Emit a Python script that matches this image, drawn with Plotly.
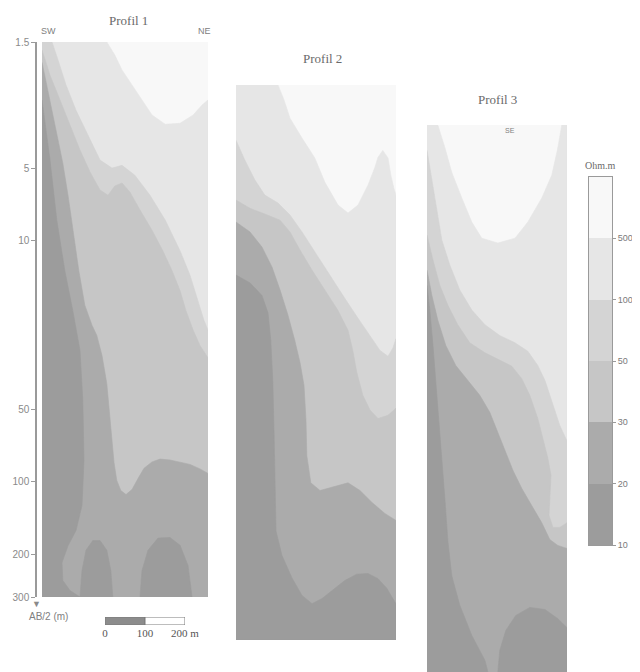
import math
import plotly.graph_objects as go

# ---------------- data ----------------
PROFILE_NAMES = ["Profil 1", "Profil 2", "Profil 3"]
PROFILE_LENGTH_M = [415, 400, 350]
AB2_TOP = 1.5
AB2_BOTTOM = 300
AB2_TICKS = [1.5, 5, 10, 50, 100, 200, 300]
AB2_TICK_LABELS = ["1.5", "5", "10", "50", "100", "200", "300"]

RES_LEVELS = [10, 20, 30, 50, 100, 500]          # Ohm.m class limits
BAND_COLORS = ["#9c9c9c", "#ababab", "#c6c6c6", "#d4d4d4", "#e6e6e6", "#f8f8f8"]

SCALE_TICKS = [0, 100, 200]
SCALE_LABELS = ["0", "100", "200 m"]

# --- Profil 1 : iso-resistivity lines (x = distance m, y = AB/2 m) ---
P1_C500_X = [162, 182, 200, 225, 250, 275, 308, 345, 378, 400, 415]
P1_C500_Y = [1.5, 1.7, 1.96, 2.26, 2.61, 3.01, 3.29, 3.26, 3.01, 2.74, 2.61]
P1_C100_X = [25, 40, 60, 85, 115, 145, 175, 200, 232, 270, 308, 345, 370, 390, 405, 415]
P1_C100_Y = [1.5, 1.78, 2.26, 2.88, 3.65, 4.63, 5.0, 4.87, 5.35, 6.48, 8.21, 11.0, 13.9, 17.7, 21.4, 23.5]
P1_C50_X = [0, 20, 45, 70, 95, 120, 145, 165, 182, 200, 220, 245, 275, 302, 325, 345, 360, 378, 395, 415]
P1_C50_Y = [1.62, 2.06, 2.61, 3.31, 4.21, 5.19, 6.16, 6.48, 5.93, 5.76, 6.29, 7.46, 9.04, 11.0, 13.3, 16.1, 19.5, 23.5, 27.2, 30.6]
P1_C30_X = [0, 15, 27, 40, 52, 65, 77, 92, 107, 125, 137, 150, 162, 170, 175, 180, 187, 197, 210, 225, 240, 255, 275, 295, 320, 345, 370, 395, 415]
P1_C30_Y = [1.82, 2.38, 2.96, 3.83, 4.77, 6.48, 9.04, 13.3, 18.5, 22.4, 24.7, 29.9, 39.1, 53.1, 67.0, 83.0, 98.6, 108.5, 112.8, 107.5, 96.9, 87.8, 82.6, 80.4, 81.1, 83.0, 84.6, 88.3, 92.2]
P1_C20_X = [0, 20, 37, 57, 77, 95, 102, 105, 100, 85, 65, 50, 52, 70, 95]
P1_C20_Y = [2.61, 4.63, 8.21, 13.3, 19.5, 28.5, 46.0, 81.4, 125, 159, 184, 216, 256, 282, 300]
P1_BLOB1_X = [95, 100, 110, 127, 145, 162, 172, 177]
P1_BLOB1_Y = [300, 233, 192, 175, 175, 192, 233, 300]
P1_BLOB2_X = [245, 250, 265, 290, 320, 345, 365, 375]
P1_BLOB2_Y = [300, 233, 192, 171, 170, 183, 222, 300]

# --- Profil 2 ---
P2_C500_X = [105, 120, 135, 165, 197, 222, 255, 280, 305, 330, 347, 355, 367, 380, 387, 395, 400]
P2_C500_Y = [1.5, 1.73, 2.06, 2.49, 3.01, 3.79, 4.72, 5.09, 4.72, 3.9, 3.3, 2.99, 2.8, 3.01, 3.54, 4.04, 4.29]
P2_C100_X = [0, 22, 47, 72, 105, 135, 165, 197, 235, 272, 305, 335, 360, 380, 392, 400]
P2_C100_Y = [2.54, 3.07, 3.71, 4.29, 4.63, 5.19, 6.1, 7.39, 9.21, 11.5, 13.9, 16.4, 18.9, 20.0, 18.5, 16.9]
P2_C50_X = [0, 35, 72, 110, 135, 160, 190, 222, 255, 280, 292, 302, 317, 335, 355, 380, 400]
P2_C50_Y = [4.5, 4.87, 5.14, 5.45, 6.1, 7.25, 8.78, 10.6, 12.9, 15.6, 18.9, 23.3, 29.0, 33.4, 36.2, 35.1, 32.8]
P2_C30_X = [0, 35, 65, 90, 110, 130, 147, 160, 170, 175, 177, 187, 210, 247, 280, 310, 340, 372, 400]
P2_C30_Y = [5.55, 6.1, 7.05, 8.53, 10.6, 13.5, 17.2, 21.2, 26.4, 36.9, 51.5, 66.9, 72.0, 69.4, 66.9, 72.0, 80.7, 89.6, 95.8]
P2_C20_X = [0, 35, 65, 80, 87, 92, 95, 97, 100, 115, 140, 165, 190, 215, 240, 272, 302, 330, 355, 377, 392, 400]
P2_C20_Y = [9.21, 9.92, 11.2, 13.2, 17.2, 25.2, 40.6, 65.2, 106, 134, 166, 196, 212, 202, 187, 170, 160, 159, 167, 183, 202, 212]

# --- Profil 3 ---
P3_C500_X = [27, 45, 62, 87, 112, 137, 177, 220, 252, 287, 312, 327, 337]
P3_C500_Y = [1.5, 1.87, 2.36, 3.01, 3.79, 4.42, 4.63, 4.42, 3.79, 3.01, 2.42, 1.87, 1.5]
P3_C100_X = [0, 12, 25, 37, 57, 82, 112, 145, 182, 220, 252, 277, 295, 307, 320, 332, 350]
P3_C100_Y = [1.91, 2.54, 3.38, 4.5, 5.71, 7.25, 8.78, 10.1, 11.2, 12.0, 13.0, 14.9, 17.2, 19.8, 22.9, 26.4, 30.6]
P3_C50_X = [0, 15, 32, 52, 77, 107, 145, 182, 212, 237, 257, 277, 292, 302, 310, 307, 305, 315, 332, 350]
P3_C50_Y = [4.29, 5.45, 6.92, 8.37, 10.1, 12.0, 13.2, 14.2, 15.0, 16.9, 19.8, 24.7, 30.6, 36.0, 42.5, 51.5, 62.3, 69.9, 69.9, 66.9]
P3_C30_X = [0, 12, 27, 47, 72, 102, 132, 157, 177, 195, 215, 237, 262, 287, 307, 327, 350]
P3_C30_Y = [5.99, 7.61, 9.66, 12.3, 14.9, 17.2, 19.8, 23.3, 28.2, 34.1, 40.6, 48.2, 56.7, 66.9, 78.5, 83.0, 85.5]
P3_C20_X = [0, 7, 15, 22, 30, 37, 45, 52, 62, 82, 112, 145, 157, 177, 182, 197, 222, 257, 295, 327, 350]
P3_C20_Y = [6.92, 8.78, 12.3, 17.2, 25.2, 36.9, 54.0, 79.2, 111, 147, 196, 249, 300, 279, 226, 187, 162, 150, 153, 167, 182]

PROFILES = [
    dict(contours=[(P1_C500_X, P1_C500_Y), (P1_C100_X, P1_C100_Y), (P1_C50_X, P1_C50_Y),
                   (P1_C30_X, P1_C30_Y), (P1_C20_X, P1_C20_Y)],
         blobs=[(P1_BLOB1_X, P1_BLOB1_Y), (P1_BLOB2_X, P1_BLOB2_Y)]),
    dict(contours=[(P2_C500_X, P2_C500_Y), (P2_C100_X, P2_C100_Y), (P2_C50_X, P2_C50_Y),
                   (P2_C30_X, P2_C30_Y), (P2_C20_X, P2_C20_Y)], blobs=[]),
    dict(contours=[(P3_C500_X, P3_C500_Y), (P3_C100_X, P3_C100_Y), (P3_C50_X, P3_C50_Y),
                   (P3_C30_X, P3_C30_Y), (P3_C20_X, P3_C20_Y)], blobs=[]),
]

# ---------------- layout geometry (pixels of the 640x672 page) ----------------
PAGE_W, PAGE_H = 640, 672
BODY_MARGIN = 8                      # default page margin around the plot div
FIG_W, FIG_H = PAGE_W - BODY_MARGIN, PAGE_H - BODY_MARGIN
SECTION_PX = [(42, 208, 42, 597), (236, 396, 85, 640), (427, 567, 125, 672)]
PX_PER_DECADE = 555 / (math.log10(AB2_BOTTOM) - math.log10(AB2_TOP))


def fx(px):
    return (px - BODY_MARGIN) / FIG_W


def fy(py):
    return 1 - (py - BODY_MARGIN) / FIG_H


def region(xs, ys, W):
    px, py = list(xs), list(ys)
    if px[0] > 0:
        px.insert(0, 0); py.insert(0, AB2_TOP)
    if py[-1] <= AB2_TOP:
        px.append(W); py.append(AB2_TOP)
    if px[-1] >= W:
        px.append(W); py.append(AB2_BOTTOM)
    px.append(0); py.append(AB2_BOTTOM)
    return px, py


fig = go.Figure()


def poly(xs, ys, color, k):
    fig.add_trace(go.Scatter(
        x=xs, y=ys, fill="toself", fillcolor=color, mode="lines",
        line=dict(width=0.6, color=color), hoverinfo="skip", showlegend=False,
        xaxis=f"x{k}", yaxis=f"y{k}"))


for i, prof in enumerate(PROFILES):
    k = i + 1
    W = PROFILE_LENGTH_M[i]
    # whole section in the highest class
    poly([0, W, W, 0, 0], [AB2_TOP, AB2_TOP, AB2_BOTTOM, AB2_BOTTOM, AB2_TOP], BAND_COLORS[5], k)
    for j, (cx, cy) in enumerate(prof["contours"]):
        rx, ry = region(cx, cy, W)
        poly(rx, ry, BAND_COLORS[4 - j], k)
    for bx, by in prof["blobs"]:
        poly(bx, by, BAND_COLORS[0], k)

# colour legend (class bar)
fig.add_trace(go.Heatmap(
    z=[[v] for v in range(len(RES_LEVELS))], x=[0], y=list(range(len(RES_LEVELS))),
    colorscale=[[v / 5, c] for v, c in enumerate(BAND_COLORS)], zmin=0, zmax=5,
    showscale=False, hoverinfo="skip", xaxis="x4", yaxis="y4"))

# scale bar
fig.add_trace(go.Bar(
    x=[SCALE_TICKS[1] - SCALE_TICKS[0], SCALE_TICKS[2] - SCALE_TICKS[1]], y=[0, 0],
    base=[SCALE_TICKS[0], SCALE_TICKS[1]], orientation="h", width=1,
    marker=dict(color=["#8c8c8c", "#ffffff"], line=dict(color="#7a7a7a", width=1)),
    hoverinfo="skip", showlegend=False, xaxis="x5", yaxis="y5"))

hidden = dict(visible=False, showgrid=False, zeroline=False, fixedrange=True, automargin=False)
layout = dict(width=FIG_W, height=FIG_H, margin=dict(l=0, r=0, t=0, b=0, pad=0, autoexpand=False),
              paper_bgcolor="white", plot_bgcolor="rgba(0,0,0,0)", showlegend=False)

for i in range(3):
    k = i + 1
    x0, x1, y0, y1 = SECTION_PX[i]
    xa = dict(hidden, domain=[fx(x0), fx(x1)], range=[0, PROFILE_LENGTH_M[i]], anchor=f"y{k}")
    bottom_log = math.log10(AB2_TOP) + (y1 - y0) / PX_PER_DECADE
    ya = dict(hidden, type="log", domain=[max(0, fy(y1)), fy(y0)],
              range=[bottom_log, math.log10(AB2_TOP)], anchor=f"x{k}")
    if i == 0:
        ya.update(visible=True, anchor="free", position=fx(36), showline=True,
                  linecolor="#9a9a9a", linewidth=1.5, ticks="outside", ticklen=4,
                  tickcolor="#9a9a9a", tickvals=AB2_TICKS, ticktext=AB2_TICK_LABELS,
                  tickfont=dict(family="Liberation Sans", size=10, color="#8a8a8a"))
    layout["xaxis" if k == 1 else f"xaxis{k}"] = xa
    layout["yaxis" if k == 1 else f"yaxis{k}"] = ya

layout["xaxis4"] = dict(domain=[fx(589), fx(612)], range=[-0.5, 0.5], anchor="y4", automargin=False,
                        showline=True, mirror=True, linecolor="#9a9a9a", linewidth=1,
                        showticklabels=False, ticks="", showgrid=False, zeroline=False)
layout["yaxis4"] = dict(domain=[fy(545), fy(177)], range=[-0.5, 5.5], anchor="x4", side="right",
                        automargin=False,
                        showline=True, mirror=True, linecolor="#9a9a9a", linewidth=1,
                        tickvals=[v - 0.5 for v in range(6)], ticktext=[str(v) for v in RES_LEVELS],
                        ticks="outside", ticklen=3, tickcolor="#9a9a9a",
                        showgrid=True, gridcolor="#a8a8a8", gridwidth=1, layer="above traces",
                        tickfont=dict(family="Liberation Sans", size=9, color="#7a7a7a"),
                        zeroline=False)
layout["xaxis5"] = dict(domain=[fx(105), fx(185)], range=[0, 200], anchor="y5", automargin=False,
                        tickvals=SCALE_TICKS, ticktext=SCALE_LABELS, ticks="",
                        showgrid=False, zeroline=False, showline=False,
                        tickfont=dict(family="Liberation Serif", size=11, color="#555"))
layout["yaxis5"] = dict(hidden, domain=[fy(625), fy(617)], range=[-0.5, 0.5], anchor="x5")
fig.update_layout(**layout)

serif = dict(family="Liberation Serif", color="#6a6a6a")
sans = dict(family="Liberation Sans", color="#808080")
ann = [
    (PROFILE_NAMES[0], 128, 20, dict(serif, size=13)),
    (PROFILE_NAMES[1], 322, 58, dict(serif, size=13)),
    (PROFILE_NAMES[2], 497, 99, dict(serif, size=13)),
    ("SW", 48, 31, dict(sans, size=9)),
    ("NE", 204, 31, dict(sans, size=9)),
    ("SE", 510, 131, dict(sans, size=7)),
    ("Ohm.m", 600, 165, dict(serif, size=10)),
    ("▼", 36, 603, dict(color="#8a8a8a", size=9)),
    ("AB/2 (m)", 48, 616, dict(sans, size=10)),
]
for text, x, y, font in ann:
    fig.add_annotation(text=text, x=fx(x), y=fy(y), xref="paper", yref="paper",
                       showarrow=False, xanchor="center", yanchor="middle", font=font)

fig.write_html("out.html")
